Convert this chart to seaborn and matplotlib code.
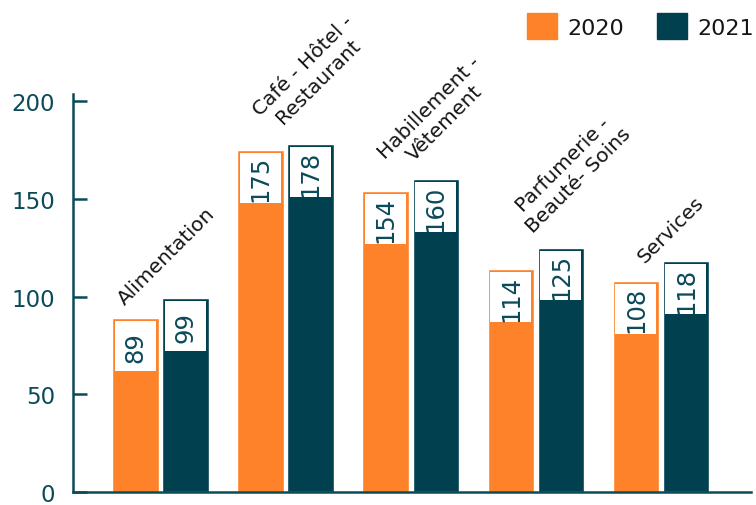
import pandas as pd
import matplotlib.pyplot as plt
import seaborn as sns

# données
categories = ['Alimentation', 'Café - Hôtel -\nRestaurant', 'Habillement -\nVêtement',
              'Parfumerie -\nBeauté- Soins', 'Services']
val_2020 = [89, 175, 154, 114, 108]
val_2021 = [99, 178, 160, 125, 118]
years = ['2020', '2021']

# décalage des étiquettes de catégorie (mise en page)
lab_dx = [0.05, 0.2, 0.21, 0.28, 0.08]
lab_dy = [-5, 5, 1, 6, -2.5]

df = pd.DataFrame({
    'categorie': categories * 2,
    'valeur': val_2020 + val_2021,
    'annee': [years[0]] * len(categories) + [years[1]] * len(categories),
})

orange = '#FE8229'
petrole = '#00404F'
texte = '#0B4A59'

sns.set_style('white')
plt.rcParams['font.family'] = ['DejaVu Sans']

fig = plt.figure(figsize=(7.56, 5.06), dpi=100)
ax = fig.add_axes([73 / 756, 13 / 506, 678 / 756, 398 / 506])

sns.barplot(data=df, x='categorie', y='valeur', hue='annee', palette=[orange, petrole],
            width=0.8, gap=0.07, ax=ax, saturation=1)

# boîtes blanches avec la valeur
box_h = 30
for cont, col in zip(ax.containers, [orange, petrole]):
    for bar in cont:
        x0 = bar.get_x()
        w = bar.get_width()
        h = bar.get_height()
        ax.bar(x0 + w / 2, box_h - 4.5, width=w - 0.045, bottom=h - box_h + 3,
               color='white', linewidth=0, zorder=3)
        ax.text(x0 + w / 2, h - box_h / 2 + 0.5, f'{h:.0f}', rotation=90, ha='center',
                va='center', fontsize=17.5, color=texte, zorder=4)

# étiquettes de catégorie inclinées
for i, cat in enumerate(categories):
    top = max(val_2020[i], val_2021[i])
    ax.text(i + lab_dx[i], top + lab_dy[i], cat, rotation=45, ha='center', va='bottom',
            multialignment='center', fontsize=14.5, color='#151515')

ax.set_xlim(-0.7, 4.72)
ax.set_ylim(0, 203.6)
ax.set_yticks([0, 50, 100, 150, 200])
ax.set_xticks([])
ax.set_xlabel('')
ax.set_ylabel('')
ax.tick_params(axis='y', direction='in', length=10, width=1.8, pad=13,
               labelsize=16.5, labelcolor=texte, color=texte, left=True)
for s in ['top', 'right']:
    ax.spines[s].set_visible(False)
for s in ['left', 'bottom']:
    ax.spines[s].set_color(texte)
    ax.spines[s].set_linewidth(1.8)

ax.legend_.remove()
handles = [plt.Rectangle((0, 0), 1, 1, color=c) for c in [orange, petrole]]
leg = fig.legend(handles, years, loc='upper right', bbox_to_anchor=(754 / 756, 1 - 14 / 506),
                 ncol=2, frameon=False, fontsize=16, handlelength=1.35, handleheight=1.45,
                 handletextpad=0.45, columnspacing=1.5, borderpad=0, borderaxespad=0)
for t in leg.get_texts():
    t.set_color('#151515')

fig.savefig('out.png', dpi=100)
